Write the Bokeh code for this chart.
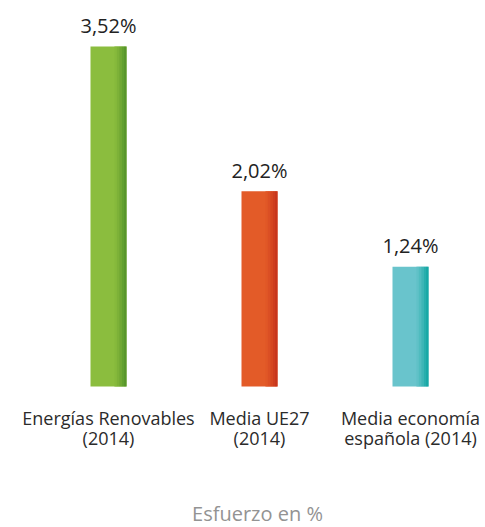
from bokeh.plotting import figure
from bokeh.models import ColumnDataSource, Range1d
from bokeh.transform import dodge
from bokeh.core.properties import value
from bokeh.embed import file_html
from bokeh.resources import INLINE

# ---- data ----
cat_line1 = ["Energías Renovables", "Media UE27", "Media economía"]
cat_line2 = ["(2014)", "(2014)", "española (2014)"]
values = [3.52, 2.02, 1.24]
value_labels = ["3,52%", "2,02%", "1,24%"]
title_text = "Esfuerzo en %"

# ---- styles ----
main_colors = ["#8BBD3E", "#E35B28", "#69C4CC"]
strip_colors = [
    ["#86B93C", "#7DB138", "#70A833", "#62A02F", "#58962B"],
    ["#E05727", "#DB4F24", "#D54621", "#CE3E1F", "#C8361D"],
    ["#60C1C7", "#50BCBF", "#3DB5B6", "#28AEAD", "#16A8A5"],
]
FONT = "Open Sans"
W, H = 485, 527
px = 151.0                      # pixels per category step
ppu = 96.6                      # pixels per value unit
x0, y0 = 108, 386               # first bar centre / baseline (pixels)
bar_w = 36 / px

x = list(range(len(values)))
src = ColumnDataSource(dict(x=x, top=values, color=main_colors,
                            vlab=value_labels, l1=cat_line1, l2=cat_line2))

p = figure(width=W, height=H, output_backend="svg", toolbar_location=None,
           x_range=Range1d(-x0 / px, (W - x0) / px),
           y_range=Range1d(-(H - y0) / ppu, y0 / ppu),
           min_border=0, min_border_left=0, min_border_right=0,
           min_border_top=0, min_border_bottom=0)
p.axis.visible = False
p.grid.visible = False
p.outline_line_color = None
p.background_fill_color = "white"
p.border_fill_color = "white"

p.vbar(x="x", top="top", bottom=0, width=bar_w, fill_color="color",
       line_color=None, source=src)

# darker gradient strip on the right edge of each bar
n = 5
strip_px = 12.0
sw = strip_px / n / px
for k in range(n):
    off = (36 / 2 - strip_px + strip_px / n * (k + 0.5)) / px
    cols = [strip_colors[i][k] for i in range(len(values))]
    s2 = ColumnDataSource(dict(x=x, top=values, c=cols))
    p.vbar(x=dodge("x", off, range=p.x_range), top="top", bottom=0,
           width=sw * 1.05, fill_color="c", line_color=None, source=s2)

p.text(x="x", y="top", text="vlab", source=src, text_align="center",
       text_baseline="alphabetic", y_offset=-21, text_font=value(FONT),
       text_font_size="20px", text_color="#222222")

p.text(x="x", y=0, text="l1", source=src, text_align="center",
       text_baseline="alphabetic", y_offset=31.5, text_font=value(FONT),
       text_font_size="18px", text_color="#2b2b2b")
p.text(x="x", y=0, text="l2", source=src, text_align="center",
       text_baseline="alphabetic", y_offset=51.5, text_font=value(FONT),
       text_font_size="18px", text_color="#2b2b2b")

p.text(x=[1], y=[0], text=[title_text], text_align="center",
       text_baseline="alphabetic", y_offset=127, x_offset=-2,
       text_font=value(FONT), text_font_size="20px", text_color="#939393")

open("out.html", "w").write(file_html(p, INLINE))
